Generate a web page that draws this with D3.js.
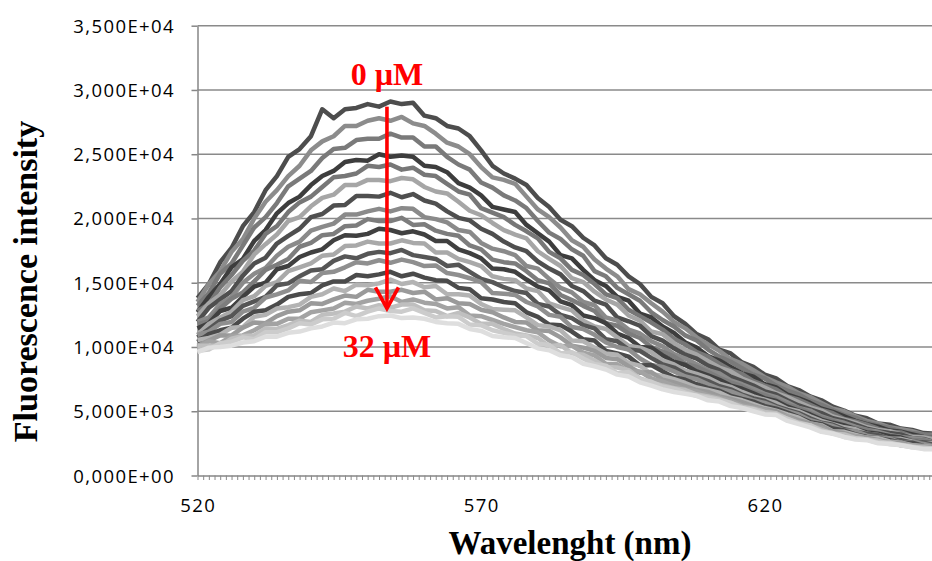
<!DOCTYPE html>
<html>
<head>
<meta charset="utf-8">
<script src="https://cdn.jsdelivr.net/npm/d3@7"></script>
<style>
  body { margin: 0; background: #fff; }
  svg { display: block; background: #fff; }
  .tick-label { font-family: "Open Sans", sans-serif; font-size: 18.5px; letter-spacing: 1.4px; fill: #000; }
  .axis-title { font-family: "Liberation Serif", "Times New Roman", serif; font-weight: bold; fill: #000; }
  .note { font-family: "Liberation Serif", "Times New Roman", serif; font-weight: bold; font-size: 32px; fill: #ff0000; }
</style>
</head>
<body>
<div id="chart"></div>
<script>
// wavelength grid (nm)
const wavelengths = [520,522,524,526,528,530,532,534,536,538,540,542,544,546,548,550,552,554,556,558,560,562,564,566,568,570,572,574,576,578,580,582,584,586,588,590,592,594,596,598,600,602,604,606,608,610,612,614,616,618,620,622,624,626,628,630,632,634,636,638,640,642,644,646,648,650];

// fluorescence intensity per titration step, 0 uM (top) to 32 uM (bottom)
const curve01 = [13800,14900,16600,17700,19400,20500,22200,23300,24800,25400,26400,28500,27800,28500,28600,28900,28700,29100,28900,29000,28000,27800,27200,27000,26400,25300,24100,23500,23100,22600,21600,20900,19900,19400,18500,17900,16900,16400,15500,14900,13900,13400,12400,11800,11000,10600,9800,9500,8800,8450,7850,7550,6950,6650,6150,5850,5350,5050,4650,4450,4050,3950,3650,3550,3300,3250];
const curve02 = [13500,14900,15900,17400,18400,20000,21300,22200,23300,24100,25300,26000,26400,27200,27200,27600,27800,27600,27900,27400,27200,26600,25900,25600,25000,24000,23200,23000,22700,21700,20700,20100,19300,18300,17800,16800,16100,15500,14500,14100,13400,12750,11950,11450,10750,10200,9700,9050,8700,8200,7650,7250,6900,6400,6100,5650,5200,5000,4600,4250,4050,3750,3600,3450,3200,3150];
const curve03 = [13200,14200,15700,16500,17900,19300,20100,21200,22500,23100,23700,24700,25400,25500,26100,26200,26200,26600,26300,26300,25600,25600,24800,24200,23800,22800,22400,21800,21400,20800,19800,18900,18400,17600,17100,15900,15500,14600,14100,13600,12700,12100,11600,10900,10500,9800,9250,8850,8350,7850,7550,7000,6600,6300,5800,5500,5100,4700,4500,4100,3900,3700,3450,3300,3200,3050];
const curve04 = [12700,13900,14900,16200,16850,18250,19100,20400,21200,21700,22600,23300,23700,24400,24550,24500,25000,24800,24900,24800,24100,24000,23600,22750,22400,21800,20900,20700,20500,19500,18850,18200,17150,16900,16000,15200,14750,13900,13600,12600,12300,11600,11100,10350,9950,9300,8950,8450,7950,7700,7100,6850,6300,6000,5650,5200,4950,4600,4250,4000,3800,3500,3400,3200,3000,2950];
const curve05 = [12800,13300,14650,15600,16700,17500,18800,19400,20500,21250,21700,22450,23200,23300,23500,24100,24000,24200,23800,23950,23400,23300,22700,22100,21850,20800,20450,20100,19500,19000,18450,17400,16900,16000,15600,14900,14100,13800,12900,12400,11900,11350,10650,10200,9600,9250,8700,8200,7900,7350,7000,6700,6150,5900,5500,5100,4850,4400,4200,3950,3650,3400,3350,3050,3000,2950];
const curve06 = [12400,13400,14050,15100,15850,17200,18000,18750,19800,20100,20950,21600,21850,22600,22600,23000,23000,22900,23150,23050,22450,22100,21950,21300,20600,20250,19650,19100,18750,18450,17450,16850,16300,15350,15050,14300,13700,13300,12450,12050,11200,11000,10300,9750,9400,8900,8400,8100,7550,7200,6850,6400,6100,5700,5300,5050,4600,4350,4100,3750,3550,3450,3200,3000,2950,2800];
const curve07 = [11950,13050,13700,14350,15550,16500,16950,18050,18650,19200,20100,20350,21000,21050,21750,21750,21700,22000,21650,21900,21400,21150,20550,20050,19850,19200,18800,18200,17750,17450,16650,16100,15650,14750,14350,13600,13300,12300,12000,11650,10850,10500,9900,9400,9100,8550,8200,7700,7350,7000,6550,6300,5850,5450,5150,4850,4450,4250,3950,3650,3450,3300,3200,2900,2850,2600];
const curve08 = [11950,12300,13350,13900,15000,15700,16150,17100,17800,18200,19050,19350,19600,20300,20300,20550,20750,20550,20800,20750,20100,19950,19700,19100,18950,18100,17650,17450,17150,16300,16100,15300,14600,14250,13500,13250,12300,12050,11350,11050,10450,10050,9450,9100,8650,8200,7950,7400,7100,6750,6350,6100,5700,5250,5050,4600,4300,4100,3800,3550,3400,3150,3000,2900,2800,2550];
const curve09 = [11750,12000,13000,13750,14250,15100,16000,16400,16850,17800,18100,18700,18800,19400,19450,19950,19800,19800,20050,19500,19550,19050,18800,18650,17900,17600,16800,16600,16500,15900,15200,14950,14050,13650,13200,12800,11850,11650,11050,10700,10000,9650,9250,8700,8450,8050,7600,7250,6950,6500,6250,5900,5500,5250,4850,4500,4250,3900,3700,3550,3200,3100,3000,2750,2750,2500];
const curve10 = [11450,11850,12800,13050,13900,14700,15000,16050,16300,17000,17350,17600,18300,18700,18650,18800,19200,19100,18850,19000,18750,18250,18250,17600,17300,16900,16100,16050,15850,15250,14700,14400,13550,13250,12450,12250,11850,11050,10700,10000,9950,9350,8850,8600,8100,7800,7450,7000,6750,6400,6000,5800,5350,5050,4750,4350,4100,3900,3600,3350,3250,3050,2950,2650,2550,2550];
const curve11 = [10950,11800,12300,12750,13650,13950,14750,15050,15900,16200,16500,17100,17200,17850,17900,18200,18050,18050,18300,18100,18050,17350,17350,16850,16600,16300,15500,15300,15200,14550,14350,13400,13100,12850,12050,11600,11400,10750,10100,9950,9600,8950,8650,8150,7900,7600,7150,6900,6500,6150,5900,5650,5200,5000,4600,4250,4000,3750,3600,3250,3150,2850,2850,2650,2500,2550];
const curve12 = [10750,11400,12050,12400,13200,13550,13900,14800,14950,15500,15950,16050,16700,17050,16900,17250,17400,17300,17550,17150,17000,16850,16300,16400,15850,15300,15050,14650,14350,14200,13350,13150,12500,12250,11700,11450,10600,10450,9800,9700,9150,8650,8400,7900,7650,7350,6950,6700,6300,6000,5800,5400,5100,4850,4450,4100,3950,3600,3400,3250,3150,2850,2750,2550,2550,2400];
const curve13 = [10950,11200,11800,11950,12750,13050,13850,14100,14400,15150,15050,15750,15850,16200,16600,16500,16750,16550,16800,16600,16300,16350,15750,15600,15350,15050,14200,14150,14050,13500,13150,12500,12350,11550,11400,10950,10350,10000,9800,9100,8600,8450,8100,7700,7500,7100,6750,6550,6200,5850,5650,5300,5000,4750,4300,4050,3850,3500,3450,3100,2950,2900,2550,2600,2450,2250];
const curve14 = [10400,11000,11300,11500,12200,12750,12850,13300,13900,14100,14200,14800,15100,15100,15600,15500,15650,15850,15500,15700,15400,15200,15150,14600,14500,13800,13700,13500,13400,12700,12350,11750,11700,11200,10600,10500,9700,9500,9250,8550,8600,8100,7650,7450,7100,6800,6600,6200,5950,5750,5400,5200,4900,4550,4150,4000,3650,3500,3200,3000,2900,2750,2550,2550,2300,2250];
const curve15 = [10550,10700,10950,11500,11550,12350,12500,13000,13100,13300,13900,14100,14550,14350,14850,14800,14950,15250,14900,15050,14650,14750,14100,14100,14000,13350,12950,12900,12850,12300,11700,11600,11300,10500,10450,9950,9500,9400,8750,8550,7900,7750,7500,7200,6850,6650,6450,6050,5850,5550,5250,5050,4750,4500,4050,3900,3450,3400,3150,2950,2900,2650,2550,2350,2300,2250];
const curve16 = [10100,10500,10900,10900,11500,11900,11850,12400,12750,12850,13400,13350,13700,14000,13900,14450,14300,14300,14450,14200,14300,13700,13800,13400,13350,12900,12700,12300,11950,11900,11300,11250,10750,10100,9950,9700,9150,9050,8500,8000,8050,7450,7250,6950,6650,6500,6150,5950,5700,5400,5150,5000,4600,4300,4050,3850,3400,3300,3050,2950,2750,2550,2550,2300,2250,2200];
const curve17 = [9950,10450,10300,10850,10900,11300,11800,11800,12200,12200,12700,12850,13000,13450,13350,13600,13750,13950,13500,13700,13450,13350,13000,13100,12450,12400,12100,11800,11550,11300,11150,10500,10050,10100,9550,9350,8700,8650,8100,8100,7550,7300,7000,6700,6550,6250,6050,5800,5450,5300,5100,4800,4600,4150,3900,3700,3300,3200,3050,2800,2700,2600,2350,2350,2200,2050];
const curve18 = [10100,10100,10100,10650,10850,10900,11450,11400,11700,12050,11950,12500,12600,12750,13150,13000,13250,13050,13300,13300,12850,12800,12400,12650,12300,11800,11800,11400,11050,10900,10700,10050,10150,9500,9400,8950,8450,8400,8200,7550,7250,7000,6800,6650,6300,6150,5950,5650,5350,5200,4950,4850,4400,4100,3900,3550,3250,3200,2900,2800,2700,2450,2400,2250,2100,2100];
const curve19 = [9700,9800,10300,10400,10750,10600,11150,11150,11450,11850,11750,12150,12200,12650,12400,12750,13000,12800,12750,13000,12650,12300,12400,12350,11750,11700,11300,11100,10900,10850,10250,10150,9500,9600,9100,8650,8550,7950,8050,7500,7300,6900,6750,6450,6200,6050,5850,5650,5250,5150,4800,4750,4400,4050,3900,3450,3300,3000,2900,2800,2550,2550,2350,2200,2150,2100];
const curve20 = [9600,9950,10000,10100,10350,10450,10800,10800,11100,11200,11450,11600,11900,11850,12150,12200,12400,12450,12250,12300,12200,11950,11850,11800,11400,11250,10850,10750,10700,10300,9900,9750,9350,9200,8700,8500,8250,7850,7700,7250,7000,6700,6500,6350,6200,5850,5750,5400,5250,5000,4750,4700,4250,4000,3750,3400,3250,3000,2800,2750,2500,2450,2350,2200,2050,2050];

const curves = [curve01, curve02, curve03, curve04, curve05, curve06, curve07, curve08, curve09, curve10,
                curve11, curve12, curve13, curve14, curve15, curve16, curve17, curve18, curve19, curve20];

const curveColors = ["#4d4d4d","#8c8c8c","#7a7a7a","#3d3d3d","#777777","#a6a6a6","#4f4f4f","#8a8a8a","#7d7d7d","#404040",
                     "#a9a9a9","#565656","#8f8f8f","#4b4b4b","#b3b3b3","#9a9a9a","#a3a3a3","#bfbfbf","#cccccc","#dedede"];

// axes
const yTicks = [0, 5000, 10000, 15000, 20000, 25000, 30000, 35000];
const yTickLabels = ["0,000E+00","5,000E+03","1,000E+04","1,500E+04","2,000E+04","2,500E+04","3,000E+04","3,500E+04"];
const xTicks = [520, 570, 620];
const xTickLabels = ["520", "570", "620"];

// red annotation: arrow from first to last concentration
const noteLabels = ["0 \u00b5M", "32 \u00b5M"];
const arrowWavelength = 553.4;
const arrowFrom = 28700, arrowTo = 13000;
const noteTopY = 30390, noteBottomY = 9220;

const width = 932, height = 561;

const x = d3.scaleLinear().domain([520, 650]).range([197.5, 934.9]);
const y = d3.scaleLinear().domain([0, 35000]).range([475.5, 25.7]);

curves.forEach((c, i) => {
  if (c.length !== wavelengths.length) console.error("curve" + (i + 1) + " has " + c.length + " points");
});

const svg = d3.select("#chart")
  .append("svg")
  .attr("width", width)
  .attr("height", height);

// gridlines
svg.append("g")
  .selectAll("line")
  .data(yTicks.filter(d => d > 0))
  .enter().append("line")
  .attr("x1", x(520))
  .attr("x2", x(650))
  .attr("y1", d => y(d))
  .attr("y2", d => y(d))
  .attr("stroke", "#8a8a8a")
  .attr("stroke-width", 1.4);

// y axis
const yAxis = svg.append("g")
  .attr("transform", `translate(${x(520)},0)`)
  .call(d3.axisLeft(y).tickValues(yTicks).tickSize(6).tickSizeOuter(0).tickFormat(""));
yAxis.selectAll("path, line").attr("stroke", "#868686").attr("stroke-width", 1.5);

svg.append("g")
  .selectAll("text")
  .data(yTicks)
  .enter().append("text")
  .attr("class", "tick-label")
  .attr("x", 175)
  .attr("y", d => y(d) + 7)
  .attr("text-anchor", "end")
  .text((d, i) => yTickLabels[i]);

// x axis, one minor tick per nm
const xAxis = svg.append("g")
  .attr("transform", `translate(0,${y(0)})`)
  .call(d3.axisBottom(x).tickValues(d3.range(520, 651, 1)).tickSize(4.5).tickSizeOuter(0).tickFormat(""));
xAxis.selectAll("path").attr("stroke", "#868686").attr("stroke-width", 1.5);
xAxis.selectAll("line").attr("stroke", "#8a8a8a").attr("stroke-width", 1);

svg.append("g")
  .selectAll("text")
  .data(xTicks)
  .enter().append("text")
  .attr("class", "tick-label")
  .attr("x", d => x(d) + 0.7)
  .attr("y", 511.7)
  .attr("text-anchor", "middle")
  .text((d, i) => xTickLabels[i]);

// spectra
const line = d3.line()
  .x((d, i) => x(wavelengths[i]))
  .y(d => y(d));

svg.append("g")
  .selectAll("path")
  .data(curves)
  .enter().append("path")
  .attr("d", line)
  .attr("fill", "none")
  .attr("stroke", (d, i) => curveColors[i])
  .attr("stroke-width", 4.5)
  .attr("stroke-linejoin", "round");

// axis titles
svg.append("text")
  .attr("class", "axis-title")
  .attr("x", 570)
  .attr("y", 553.5)
  .attr("text-anchor", "middle")
  .style("font-size", "33px")
  .text("Wavelenght (nm)");

svg.append("text")
  .attr("class", "axis-title")
  .attr("transform", "translate(36.5,281.5) rotate(-90)")
  .attr("text-anchor", "middle")
  .style("font-size", "34px")
  .text("Fluorescence intensity");

// annotation
const ax = x(arrowWavelength);
const note = svg.append("g");
note.append("line")
  .attr("x1", ax).attr("x2", ax)
  .attr("y1", y(arrowFrom)).attr("y2", y(arrowTo) - 2)
  .attr("stroke", "#ff0000")
  .attr("stroke-width", 3.6);
note.append("path")
  .attr("d", `M${ax - 11.5},${y(arrowTo) - 21} L${ax},${y(arrowTo)} L${ax + 11.5},${y(arrowTo) - 21}`)
  .attr("fill", "none")
  .attr("stroke", "#ff0000")
  .attr("stroke-width", 3.6)
  .attr("stroke-linejoin", "miter");
note.append("text")
  .attr("class", "note")
  .attr("x", ax)
  .attr("y", y(noteTopY))
  .attr("text-anchor", "middle")
  .text(noteLabels[0]);
note.append("text")
  .attr("class", "note")
  .attr("x", ax)
  .attr("y", y(noteBottomY))
  .attr("text-anchor", "middle")
  .text(noteLabels[1]);
</script>
</body>
</html>
